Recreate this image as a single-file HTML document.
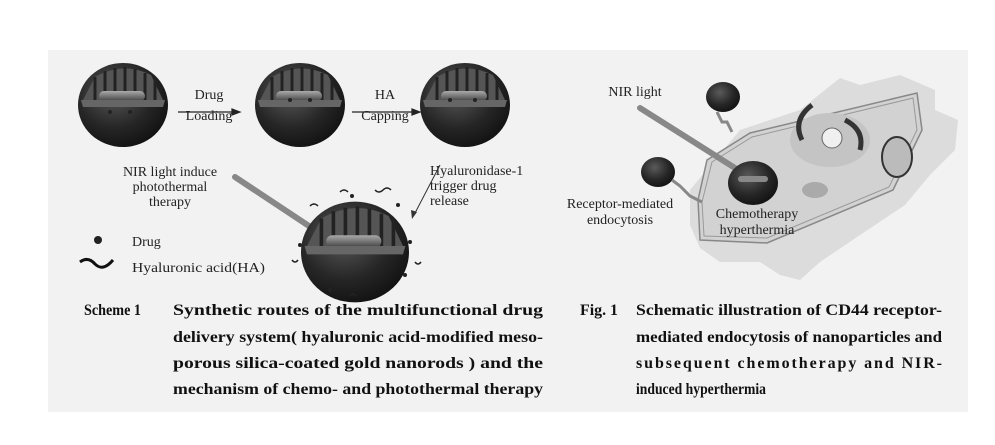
<!DOCTYPE html>
<html><head><meta charset="utf-8"><style>
html,body{margin:0;padding:0;background:#fff;}
svg{display:block;font-family:"Liberation Serif",serif;}
</style></head><body>
<svg width="995" height="445" viewBox="0 0 995 445" xmlns="http://www.w3.org/2000/svg">
<defs>
<radialGradient id="sph" cx="0.4" cy="0.35" r="0.7">
<stop offset="0" stop-color="#5a5a5a"/><stop offset="0.6" stop-color="#262626"/><stop offset="1" stop-color="#111"/></radialGradient>
<linearGradient id="rod" x1="0" y1="0" x2="0" y2="1"><stop offset="0" stop-color="#aaa"/><stop offset="1" stop-color="#444"/></linearGradient>
<g id="np">
<ellipse cx="0" cy="0" rx="45" ry="42" fill="url(#sph)"/>
<path d="M-40,-5 L-28,-28 Q0,-44 28,-30 L40,-5 Z" fill="#555"/>
<g stroke="#222" stroke-width="3"><line x1="-28" y1="-28" x2="-28" y2="-5"/><line x1="-18" y1="-34" x2="-18" y2="-5"/><line x1="-8" y1="-37" x2="-8" y2="-5"/><line x1="2" y1="-38" x2="2" y2="-5"/><line x1="12" y1="-36" x2="12" y2="-5"/><line x1="22" y1="-32" x2="22" y2="-5"/><line x1="32" y1="-25" x2="32" y2="-5"/></g>
<rect x="-24" y="-14" width="46" height="10" rx="5" fill="url(#rod)"/>
<path d="M-42,-5 L42,-5 L40,2 L-40,2 Z" fill="#666"/>
</g>
</defs>
<rect x="48" y="50" width="920" height="362" fill="#f2f2f2"/>
<use href="#np" x="123" y="105"/>
<use href="#np" x="300" y="105"/>
<use href="#np" x="465" y="105"/>
<g fill="#222"><circle cx="110" cy="112" r="2"/><circle cx="130" cy="112" r="2"/><circle cx="150" cy="112" r="2"/><circle cx="290" cy="100" r="2"/><circle cx="310" cy="100" r="2"/><circle cx="450" cy="100" r="2"/><circle cx="475" cy="100" r="2"/></g>
<g stroke="#222" stroke-width="1.2" fill="#222">
<line x1="178" y1="112" x2="236" y2="112"/><polygon points="240,112 232,109 232,115"/>
<line x1="352" y1="112" x2="416" y2="112"/><polygon points="420,112 412,109 412,115"/>
</g>
<g font-size="14" fill="#222" text-anchor="middle">
<text x="209" y="99">Drug</text><text x="209" y="120">Loading</text>
<text x="385" y="99">HA</text><text x="385" y="120">Capping</text>
<text x="170" y="176">NIR light induce</text><text x="170" y="191">photothermal</text><text x="170" y="206">therapy</text>
</g>
<g font-size="14" fill="#222"><text x="430" y="175">Hyaluronidase-1</text><text x="430" y="190">trigger drug</text><text x="430" y="205">release</text>
<text x="132" y="246">Drug</text><text x="132" y="272" textLength="133" lengthAdjust="spacingAndGlyphs">Hyaluronic acid(HA)</text></g>
<line x1="440" y1="165" x2="414" y2="215" stroke="#333" stroke-width="1"/>
<polygon points="412,219 411,210 417,212" fill="#333"/>
<line x1="235" y1="177" x2="312" y2="228" stroke="#888" stroke-width="6" stroke-linecap="round"/>
<g transform="translate(355,252) scale(1.2)"><use href="#np"/></g>
<g fill="#222"><circle cx="300" cy="245" r="2"/><circle cx="410" cy="242" r="2"/><circle cx="330" cy="290" r="2"/><circle cx="405" cy="275" r="2"/><circle cx="352" cy="196" r="2"/><circle cx="398" cy="205" r="2"/></g>
<g fill="none" stroke="#222" stroke-width="1.5"><path d="M340,192 q4,-4 8,0"/><path d="M375,190 q4,4 8,0 q4,-4 8,0"/><path d="M310,206 q4,-4 8,0"/><path d="M415,262 q3,4 6,0"/><path d="M292,260 q3,4 6,0"/><path d="M350,296 q3,-4 6,0"/></g>
<circle cx="98" cy="240" r="4" fill="#222"/>
<path d="M80,262 q8,-6 15,2 q8,8 18,-4" fill="none" stroke="#111" stroke-width="3"/>
<path d="M690,190 L740,130 L800,110 L840,78 L860,85 L900,75 L935,90 L935,110 L958,120 L955,150 L930,175 L905,205 L860,235 L820,262 L800,280 L780,275 L760,262 L720,262 L700,248 L690,225 Z" fill="#dcdcdc"/>
<path d="M707,160 L750,133 L917,93 L922,130 L893,190 L767,243 L700,240 L698,200 Z" fill="#d2d2d2" stroke="#888" stroke-width="1.5"/>
<path d="M712,162 L752,137 L913,98 L917,130 L889,187 L767,238 L704,236 L702,202 Z" fill="none" stroke="#999" stroke-width="1"/>
<ellipse cx="830" cy="140" rx="40" ry="27" fill="#c4c4c4"/>
<circle cx="832" cy="138" r="10" fill="#f0f0f0" stroke="#666"/>
<path d="M802,140 q-10,-20 10,-35" fill="none" stroke="#333" stroke-width="5"/>
<path d="M845,120 q20,10 15,30" fill="none" stroke="#333" stroke-width="5"/>
<ellipse cx="897" cy="157" rx="15" ry="20" fill="#bbb" stroke="#333" stroke-width="2"/>
<ellipse cx="815" cy="190" rx="13" ry="8" fill="#aaa"/>
<ellipse cx="723" cy="97" rx="17" ry="15" fill="url(#sph)"/><path d="M717,112 l5,10 l5,0 l5,10" fill="none" stroke="#888" stroke-width="3"/>
<ellipse cx="658" cy="172" rx="17" ry="15" fill="url(#sph)"/><path d="M672,180 l8,6 l10,10 l12,6" fill="none" stroke="#888" stroke-width="3"/>
<line x1="640" y1="108" x2="735" y2="168" stroke="#888" stroke-width="6" stroke-linecap="round"/>
<ellipse cx="753" cy="183" rx="25" ry="22" fill="url(#sph)"/>
<rect x="738" y="176" width="30" height="6" rx="3" fill="#888"/>
<g font-size="14" fill="#222" text-anchor="middle">
<text x="635" y="96">NIR light</text>
<text x="620" y="208">Receptor-mediated</text><text x="620" y="224">endocytosis</text>
<text x="757" y="218">Chemotherapy</text><text x="757" y="234">hyperthermia</text>
</g>
<g font-size="16" font-weight="bold" fill="#111" lengthAdjust="spacingAndGlyphs">
<text x="84" y="315" textLength="57" lengthAdjust="spacingAndGlyphs">Scheme 1</text>
<text x="173" y="315" textLength="370" lengthAdjust="spacingAndGlyphs">Synthetic routes of the multifunctional drug</text>
<text x="173" y="342" textLength="370" lengthAdjust="spacingAndGlyphs">delivery system( hyaluronic acid-modified meso-</text>
<text x="173" y="368" textLength="370" lengthAdjust="spacingAndGlyphs">porous silica-coated gold nanorods ) and the</text>
<text x="173" y="394" textLength="370" lengthAdjust="spacingAndGlyphs">mechanism of chemo- and photothermal therapy</text>
<text x="580" y="315" textLength="38" lengthAdjust="spacingAndGlyphs">Fig. 1</text>
<text x="636" y="315" textLength="306" lengthAdjust="spacingAndGlyphs">Schematic illustration of CD44 receptor-</text>
<text x="636" y="342" textLength="306" lengthAdjust="spacingAndGlyphs">mediated endocytosis of nanoparticles and</text>
<text x="636" y="368" textLength="306" lengthAdjust="spacing">subsequent chemotherapy and NIR-</text>
<text x="636" y="394" textLength="130" lengthAdjust="spacingAndGlyphs">induced hyperthermia</text>
</g>
</svg>
</body></html>
